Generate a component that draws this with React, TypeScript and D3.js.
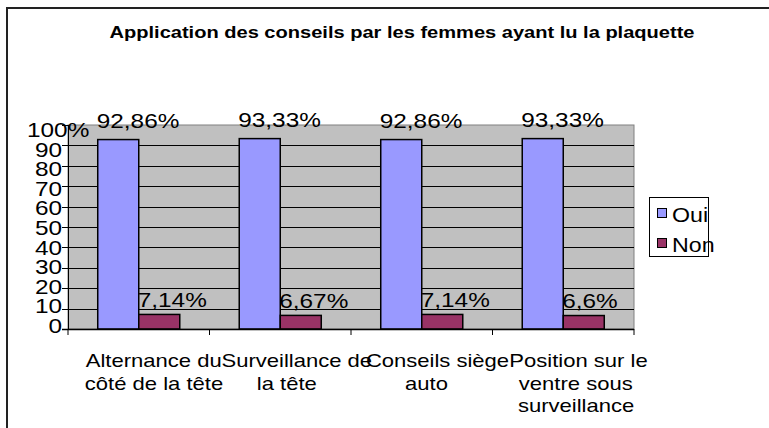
import React, { useEffect, useRef } from 'react';
import * as d3 from 'd3';

const categories: string[][] = [
  ['Alternance du', 'côté de la tête'],
  ['Surveillance de', 'la tête'],
  ['Conseils siège', 'auto'],
  ['Position sur le', 'ventre sous', 'surveillance'],
];
const seriesNames = ['Oui', 'Non'];
const ouiValues = [92.86, 93.33, 92.86, 93.33];
const nonValues = [7.14, 6.67, 7.14, 6.6];
const ouiLabels = ['92,86%', '93,33%', '92,86%', '93,33%'];
const nonLabels = ['7,14%', '6,67%', '7,14%', '6,6%'];
const yTicks = [0, 10, 20, 30, 40, 50, 60, 70, 80, 90, 100];
const yTickLabels = ['0', '10', '20', '30', '40', '50', '60', '70', '80', '90', '100%'];
const title = 'Application des conseils par les femmes ayant lu la plaquette';

const colors = ['#9999ff', '#993366'];
const FONT = '"Liberation Sans", Arial, sans-serif';
// the picture is stretched sideways, so every text is too
const SX = 1.16;

const App: React.FC = () => {
  const svgRef = useRef<SVGSVGElement>(null);

  useEffect(() => {
    if (!svgRef.current) return;
    const svg = d3.select(svgRef.current);
    svg.selectAll('*').remove();

    const plot = { left: 68, top: 125, right: 634, bottom: 329 };

    const addText = (x: number, y: number, txt: string, size: number, anchor = 'start', bold = false) =>
      svg.append('text')
        .attr('transform', `translate(${x},${y}) scale(${SX},1)`)
        .attr('text-anchor', anchor)
        .attr('font-family', FONT)
        .attr('font-size', size)
        .attr('font-weight', bold ? 'bold' : 'normal')
        .attr('fill', '#000')
        .text(txt);

    // outer frame
    svg.append('rect')
      .attr('x', 7).attr('y', 8)
      .attr('width', 800).attr('height', 450)
      .attr('fill', '#fff')
      .attr('stroke', '#222')
      .attr('stroke-width', 2);

    addText(402, 38, title, 17.3, 'middle', true);

    const x0 = d3.scaleBand<number>()
      .domain(d3.range(categories.length))
      .range([plot.left, plot.right])
      .paddingInner(0)
      .paddingOuter(0);

    const x1 = d3.scaleBand<number>()
      .domain([0, 1])
      .range([0, x0.bandwidth()])
      .paddingInner(0)
      .paddingOuter(0.725);

    const y = d3.scaleLinear().domain([0, 100]).range([plot.bottom, plot.top]);
    const yLab = d3.scaleLinear().domain([0, 100]).range([333, 137]);

    // plot background
    svg.append('rect')
      .attr('x', plot.left).attr('y', plot.top)
      .attr('width', plot.right - plot.left)
      .attr('height', plot.bottom - plot.top)
      .attr('fill', '#c0c0c0')
      .attr('stroke', '#808080')
      .attr('stroke-width', 1);

    yTicks.filter(t => t > 0 && t < 100).forEach(t => {
      svg.append('line')
        .attr('x1', plot.left).attr('x2', plot.right)
        .attr('y1', Math.round(y(t)) + 0.5).attr('y2', Math.round(y(t)) + 0.5)
        .attr('stroke', '#000')
        .attr('stroke-width', 1);
    });

    // y axis
    svg.append('line')
      .attr('x1', plot.left + 0.5).attr('x2', plot.left + 0.5)
      .attr('y1', plot.top).attr('y2', plot.bottom)
      .attr('stroke', '#000');
    yTicks.forEach((t, i) => {
      svg.append('line')
        .attr('x1', plot.left - 6).attr('x2', plot.left)
        .attr('y1', Math.round(y(t)) + 0.5).attr('y2', Math.round(y(t)) + 0.5)
        .attr('stroke', '#000');
      if (t === 100) addText(27, yLab(t), yTickLabels[i], 21, 'start');
      else addText(62, yLab(t), yTickLabels[i], 21, 'end');
    });

    // bars
    const series = [ouiValues, nonValues];
    const labels = [ouiLabels, nonLabels];
    const labelGap = [11.5, 7.5];
    series.forEach((vals, s) => {
      vals.forEach((v, i) => {
        const bx = x0(i)! + x1(s)!;
        svg.append('rect')
          .attr('x', bx).attr('y', y(v))
          .attr('width', x1.bandwidth())
          .attr('height', y(0) - y(v))
          .attr('fill', colors[s])
          .attr('stroke', '#000')
          .attr('stroke-width', 1.5);
        addText(bx - 1, y(v) - labelGap[s], labels[s][i], 21, 'start');
      });
    });

    // x axis
    svg.append('line')
      .attr('x1', plot.left - 6).attr('x2', plot.right)
      .attr('y1', plot.bottom + 0.5).attr('y2', plot.bottom + 0.5)
      .attr('stroke', '#000')
      .attr('stroke-width', 1.5);
    d3.range(categories.length + 1).forEach(i => {
      const tx = plot.left + i * x0.bandwidth();
      svg.append('line')
        .attr('x1', tx).attr('x2', tx)
        .attr('y1', plot.bottom).attr('y2', plot.bottom + 6)
        .attr('stroke', '#000');
    });

    categories.forEach((lines, i) => {
      const cx = x0(i)! + x0.bandwidth() / 2;
      lines.forEach((ln, j) => {
        const t = addText(0, 0, ln, 19, 'start');
        const w = (t.node() as SVGTextElement).getComputedTextLength() * SX;
        t.attr('transform', `translate(${cx - 0.39 * w},${367 + j * 22.5}) scale(${SX},1)`);
      });
    });

    // legend
    const lg = { x: 649, y: 197, w: 59, h: 59 };
    svg.append('rect')
      .attr('x', lg.x + 0.5).attr('y', lg.y + 0.5)
      .attr('width', lg.w).attr('height', lg.h)
      .attr('fill', '#fff')
      .attr('stroke', '#000')
      .attr('stroke-width', 1);
    seriesNames.forEach((name, s) => {
      svg.append('rect')
        .attr('x', 657.5).attr('y', 208.5 + s * 30)
        .attr('width', 9).attr('height', 9)
        .attr('fill', colors[s])
        .attr('stroke', '#000');
      addText(672, 222 + s * 30, name, 20, 'start');
    });
  }, []);

  return (
    <svg ref={svgRef} width={769} height={428}
      style={{ position: 'absolute', left: 0, top: 0, background: '#fff' }} />
  );
};

export default App;
